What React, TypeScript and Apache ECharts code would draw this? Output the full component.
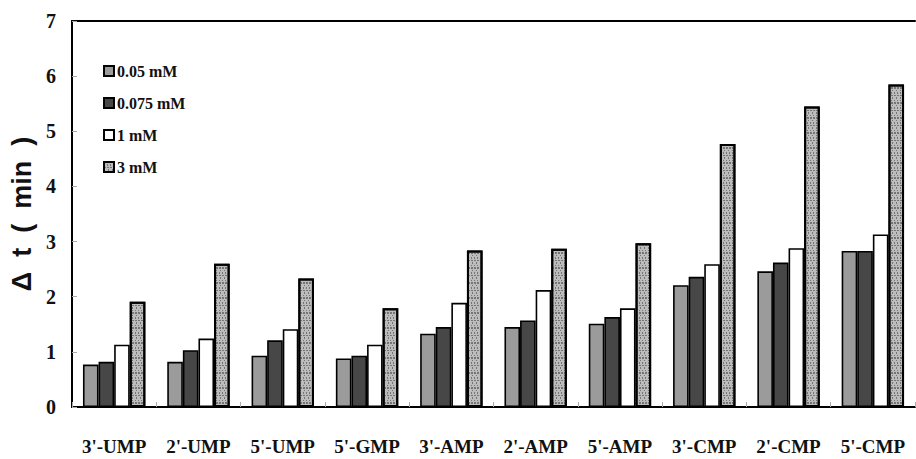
import React, { useEffect, useRef } from "react";
import * as echarts from "echarts";

const categories = ["3'-UMP", "2'-UMP", "5'-UMP", "5'-GMP", "3'-AMP", "2'-AMP", "5'-AMP", "3'-CMP", "2'-CMP", "5'-CMP"];
const seriesNames = ["0.05 mM", "0.075 mM", "1 mM", "3 mM"];
const v005 = [0.77, 0.82, 0.93, 0.88, 1.33, 1.45, 1.51, 2.21, 2.46, 2.83];
const v0075 = [0.82, 1.03, 1.21, 0.93, 1.45, 1.57, 1.63, 2.36, 2.62, 2.83];
const v1 = [1.13, 1.24, 1.41, 1.13, 1.89, 2.12, 1.79, 2.59, 2.88, 3.13];
const v3 = [1.91, 2.60, 2.33, 1.79, 2.84, 2.87, 2.97, 4.77, 5.45, 5.85];
const yTicks = [0, 1, 2, 3, 4, 5, 6, 7];

const serif = "'Liberation Serif', 'Times New Roman', serif";

export default function App() {
  const ref = useRef<HTMLDivElement>(null);
  useEffect(() => {
    if (!ref.current) return;
    const chart = echarts.init(ref.current, null, { renderer: "svg" });
    const fills = ["#9b9b9b", "#474747", "#ffffff", "#bcbcbc"];
    const values = [v005, v0075, v1, v3];
    const series = seriesNames.map((name, i) => ({
      name,
      type: "bar",
      data: values[i],
      barGap: "0%",
      barCategoryGap: "26%",
      itemStyle: {
        color: fills[i],
        borderColor: "#000",
        borderWidth: i === 3 ? 2 : 1.6,
        decal:
          i === 3
            ? {
                symbol: "rect",
                symbolSize: 1,
                color: "rgba(70,70,70,0.6)",
                dashArrayX: [[1, 2], [2, 1], [1, 3]],
                dashArrayY: [1, 1, 2, 1],
                rotation: 0,
              }
            : "none",
      },
    }));
    chart.setOption({
      animation: false,
      backgroundColor: "#ffffff",
      grid: { left: 72, right: 1, top: 21, bottom: 52 },
      legend: {
        orient: "vertical",
        left: 98,
        top: 58,
        itemWidth: 10,
        itemHeight: 10,
        itemGap: 16,
        icon: "rect",
        data: seriesNames,
        textStyle: { fontFamily: serif, fontWeight: "bold", fontSize: 16, color: "#111", padding: [0, 0, 0, -2] },
      },
      xAxis: [
        {
          type: "category",
          data: categories,
          position: "bottom",
          axisLine: { lineStyle: { color: "#000", width: 2 } },
          axisTick: { show: true, inside: true, length: 5, lineStyle: { color: "#aaa" } },
          axisLabel: {
            margin: 30,
            fontFamily: serif,
            fontWeight: "bold",
            fontSize: 19,
            color: "#111",
            interval: 0,
          },
        },
        {
          type: "category",
          data: categories,
          position: "top",
          axisLine: { lineStyle: { color: "#000", width: 2 } },
          axisTick: { show: false },
          axisLabel: { show: false },
        },
      ],
      yAxis: {
        type: "value",
        min: yTicks[0],
        max: yTicks[yTicks.length - 1],
        interval: 1,
        name: "Δ  t  (  min  )",
        nameLocation: "middle",
        nameRotate: 90,
        nameGap: 30,
        nameTextStyle: {
          fontFamily: "'Liberation Sans', Arial, sans-serif",
          fontWeight: "bold",
          fontSize: 27,
          color: "#111",
        },
        axisLine: { show: true, lineStyle: { color: "#000", width: 2 } },
        axisTick: { show: true, inside: true, length: 5, lineStyle: { color: "#aaa" } },
        splitLine: { show: false },
        axisLabel: {
          margin: 16,
          fontFamily: serif,
          fontWeight: "bold",
          fontSize: 20,
          color: "#111",
        },
      },
      series,
    });
    return () => chart.dispose();
  }, []);
  return (
    <div
      ref={ref}
      style={{ position: "fixed", left: 0, top: 0, width: 916, height: 459 }}
    />
  );
}
